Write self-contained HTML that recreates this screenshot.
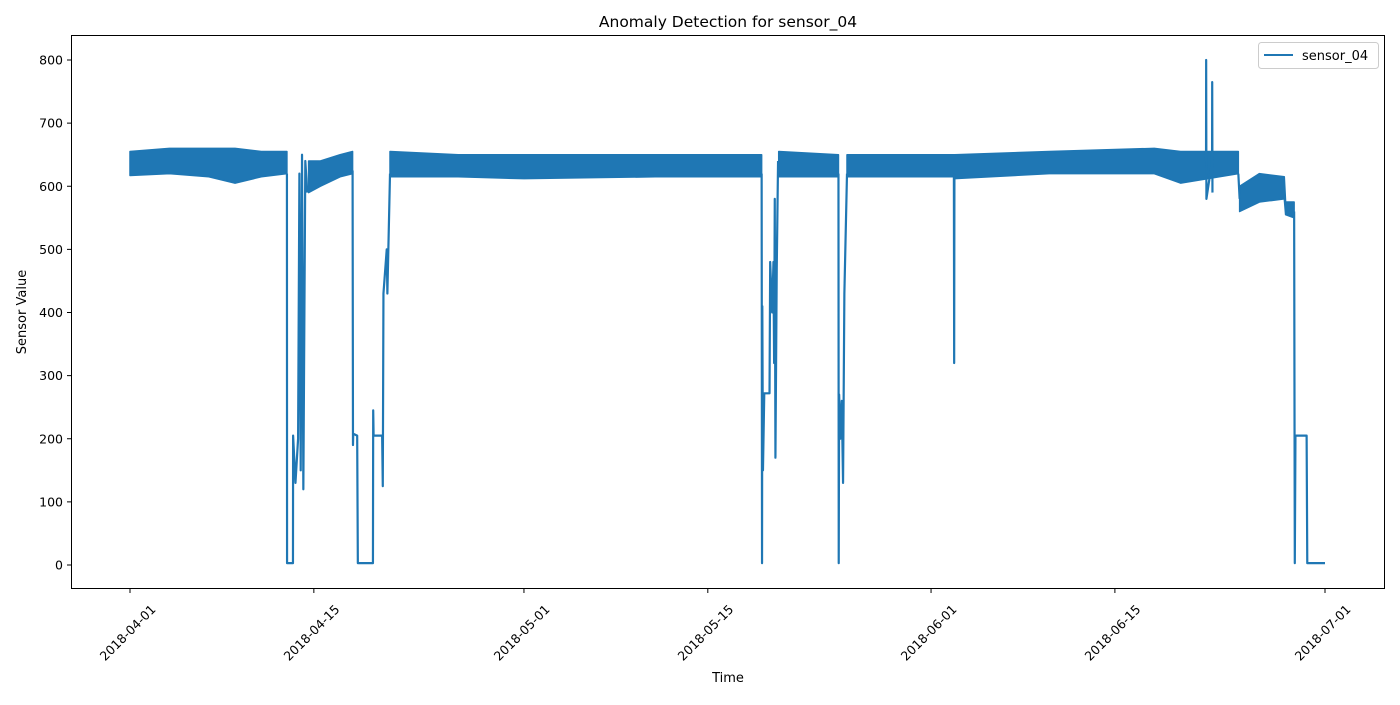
<!DOCTYPE html>
<html><head><meta charset="utf-8"><style>
body{margin:0;background:#fff;font-family:"Liberation Sans","DejaVu Sans",sans-serif;}
svg text{font-family:"DejaVu Sans","Liberation Sans",sans-serif;}
</style></head><body>
<svg id="chart" width="1400" height="700" xmlns="http://www.w3.org/2000/svg">
<rect width="1400" height="700" fill="#fff"/>
<g id="plot"></g>
<rect x="71.5" y="35.5" width="1313" height="553" fill="none" stroke="#000" stroke-width="1"/>
<text x="728" y="27" font-size="15.5" text-anchor="middle">Anomaly Detection for sensor_04</text>
<text x="728" y="682" font-size="13" text-anchor="middle">Time</text>
<text transform="translate(26,312) rotate(-90)" font-size="13" text-anchor="middle">Sensor Value</text>
<g>
<rect x="1258.5" y="42.5" width="120" height="26" rx="3" fill="#fff" stroke="#ccc"/>
<line x1="1264" y1="55" x2="1293" y2="55" stroke="#1f77b4" stroke-width="2"/>
<text x="1302" y="60" font-size="13">sensor_04</text>
</g>
<g id="axes"></g>
</svg>
<script>
const yTicks=[0,100,200,300,400,500,600,700,800];
const xTickDays=[0,14,30,44,61,75,91];
const xTickLabels=["2018-04-01","2018-04-15","2018-05-01","2018-05-15","2018-06-01","2018-06-15","2018-07-01"];
// band: day, low, high (NaN breaks segments)
const bandDays=[0,3,6,8,10,11.95,NaN,13.6,14.5,16,16.95,NaN,19.8,25,30,40,48.1,NaN,49.4,53.95,NaN,54.6,62.7,62.8,70,78,80,84.4,NaN,84.5,86,87.9,88.0,88.65];
const bandLo=[617,620,615,605,615,620,NaN,590,600,615,620,NaN,615,615,612,615,615,NaN,615,615,NaN,615,615,612,620,620,605,620,NaN,560,575,580,555,550];
const bandHi=[655,660,660,660,655,655,NaN,640,640,650,655,NaN,655,650,650,650,650,NaN,655,650,NaN,650,650,650,655,660,655,655,NaN,600,620,615,575,575];
// trace of transitions: day, value
const traceDays=[11.95,11.96,12.41,12.42,12.6,12.8,12.9,13.0,13.1,13.2,13.35,13.5,NaN,16.95,16.98,17.0,17.3,17.35,18.5,18.52,18.55,19.2,19.25,19.3,19.55,19.6,19.8,NaN,48.1,48.13,48.15,48.2,48.3,48.7,48.75,48.9,49.0,49.05,49.1,49.15,49.25,49.35,NaN,53.95,53.97,54.0,54.1,54.2,54.3,54.4,54.6,NaN,62.74,62.76,62.78,NaN,81.94,81.95,81.97,82.4,82.41,82.43,NaN,84.4,84.5,NaN,88.65,88.7,88.75,89.6,89.65,91];
const traceVals=[620,3,3,205,130,200,620,150,650,120,640,590,NaN,625,190,208,205,3,3,245,205,205,125,430,500,430,620,NaN,620,3,410,150,272,272,480,400,480,320,580,170,470,640,NaN,620,3,270,200,260,130,430,620,NaN,620,320,620,NaN,640,800,580,640,765,590,NaN,620,580,NaN,560,3,205,205,3,3];
const X=d=>130+d*(1195/91);
const Y=v=>565-v*(505/800);
const NS="http://www.w3.org/2000/svg";
const plot=document.getElementById('plot'),axes=document.getElementById('axes');
function mk(t,a,p){const e=document.createElementNS(NS,t);for(const k in a)e.setAttribute(k,a[k]);p.appendChild(e);return e;}
let seg=[];
function flush(){if(seg.length<2){seg=[];return;}
 let pts=seg.map(i=>X(bandDays[i])+','+Y(bandHi[i])).concat(seg.slice().reverse().map(i=>X(bandDays[i])+','+Y(bandLo[i])));
 const p=mk('polygon',{points:pts.join(' '),fill:'#1f77b4',stroke:'#1f77b4','stroke-width':1.5,'stroke-linejoin':'round'},plot);
 
 
 seg=[];}
for(let i=0;i<bandDays.length;i++){if(isNaN(bandDays[i]))flush();else seg.push(i);}flush();
let d='',pen=false;
for(let i=0;i<traceDays.length;i++){if(isNaN(traceDays[i])){pen=false;continue;}
 d+=(pen?'L':'M')+X(traceDays[i]).toFixed(2)+' '+Y(traceVals[i]).toFixed(2)+' ';pen=true;}
const tr=mk('path',{d:d,fill:'none',stroke:'#1f77b4','stroke-width':2.2,'stroke-linejoin':'round'},plot);


yTicks.forEach(v=>{const y=Y(v);
 const l=mk('line',{x1:67,x2:71.5,y1:y,y2:y,stroke:'#000'},axes);
 
 
 const t=mk('text',{x:63,y:y+4.5,'font-size':12.5,'text-anchor':'end'},axes);t.textContent=v;
 
 });
xTickDays.forEach((dd,i)=>{const x=X(dd);
 const l=mk('line',{x1:x,x2:x,y1:588.5,y2:593,stroke:'#000'},axes);
 
 
 const t=mk('text',{transform:`translate(${x-2},${633}) rotate(-45)`,'font-size':12.5,'text-anchor':'middle',dy:'4'},axes);t.textContent=xTickLabels[i];
 
 });
</script>
</body></html>
